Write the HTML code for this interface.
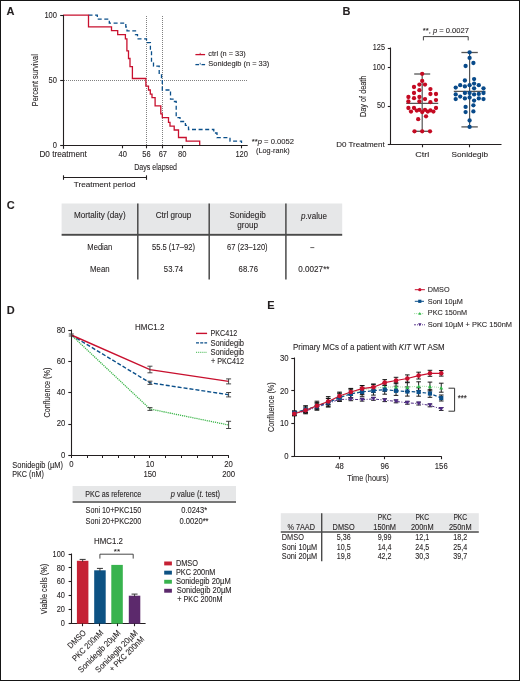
<!DOCTYPE html>
<html><head><meta charset="utf-8"><style>
html,body{margin:0;padding:0;background:#fff;width:520px;height:683px;overflow:hidden}
svg{display:block;will-change:transform}
text{font-family:"Liberation Sans",sans-serif;fill:#231f20;stroke:#231f20;stroke-width:0.15px;stroke-opacity:0.6}
</style></head><body>
<svg width="520" height="683" viewBox="0 0 520 683">
<rect width="520" height="683" fill="#fff"/>
<rect x="0.5" y="0.5" width="519" height="680" fill="none" stroke="#151515" stroke-width="1"/>
<text x="6.60" y="14.80" font-size="11" font-weight="bold" fill="#000">A</text>
<text x="342.50" y="15.00" font-size="11" font-weight="bold" fill="#000">B</text>
<text x="6.70" y="209.00" font-size="11" font-weight="bold" fill="#000">C</text>
<text x="6.80" y="314.00" font-size="11" font-weight="bold" fill="#000">D</text>
<text x="267.20" y="309.00" font-size="11" font-weight="bold" fill="#000">E</text>
<line x1="146.50" y1="16.00" x2="146.50" y2="145.50" stroke="#808080" stroke-width="1" stroke-dasharray="1 1"/>
<line x1="162.50" y1="16.00" x2="162.50" y2="145.50" stroke="#808080" stroke-width="1" stroke-dasharray="1 1"/>
<line x1="64.00" y1="80.50" x2="248.00" y2="80.50" stroke="#808080" stroke-width="1" stroke-dasharray="1 1"/>
<path d="M88.5,15.2 H97.3 V19.2 H109.3 V23.1 H125.8 V27 H127 V30.8 H135.5 V34.7 H137.5 V38.8 H146.5 V42.7 H150.4 V50 H151.5 V62.3 H153.5 V66.2 H159.2 V74.2 H161.5 V80 H162.3 V90 H170.5 V99.2 H173 V101.5 H176.2 V117.7 H180 V121.5 H185.4 V125.4 H188.5 V129.5 H213.8 V133 H217 V137.7 H230 V141.2 H241.5 V143" fill="none" stroke="#0a4f8a" stroke-width="1.3" stroke-dasharray="4 2.6"/>
<path d="M63,15.2 H88.5 V26.9 H111.5 V30.6 H117.7 V34.6 H125.4 V38.8 H126.9 V50.8 H128.5 V58.5 H130 V66.6 H132.4 V78.5 H145.9 V86.2 H148.5 V90 H150.3 V94.2 H152 V97.7 H155.1 V105.8 H160.8 V113.8 H162.3 V117.7 H168.5 V122.3 H170 V126.2 H174.2 V130 H178.5 V137.5 H186.2 V141.2 H199.7 V145.4" fill="none" stroke="#c8102e" stroke-width="1.3"/>
<line x1="63.50" y1="15.00" x2="63.50" y2="148.80" stroke="#231f20" stroke-width="1.1"/>
<line x1="63.00" y1="145.50" x2="247.70" y2="145.50" stroke="#231f20" stroke-width="1.1"/>
<line x1="60.20" y1="145.50" x2="63.50" y2="145.50" stroke="#231f20" stroke-width="1.1"/>
<line x1="60.20" y1="80.50" x2="63.50" y2="80.50" stroke="#231f20" stroke-width="1.1"/>
<line x1="60.20" y1="15.50" x2="63.50" y2="15.50" stroke="#231f20" stroke-width="1.1"/>
<line x1="122.50" y1="145.50" x2="122.50" y2="148.30" stroke="#231f20" stroke-width="1.1"/>
<line x1="146.50" y1="145.50" x2="146.50" y2="148.30" stroke="#231f20" stroke-width="1.1"/>
<line x1="162.50" y1="145.50" x2="162.50" y2="148.30" stroke="#231f20" stroke-width="1.1"/>
<line x1="182.50" y1="145.50" x2="182.50" y2="148.30" stroke="#231f20" stroke-width="1.1"/>
<line x1="241.50" y1="145.50" x2="241.50" y2="148.30" stroke="#231f20" stroke-width="1.1"/>
<text x="44.40" y="17.60" font-size="8.53" textLength="12.60" lengthAdjust="spacingAndGlyphs">100</text>
<text x="48.60" y="82.60" font-size="8.53" textLength="8.40" lengthAdjust="spacingAndGlyphs">50</text>
<text x="52.80" y="147.60" font-size="8.53" textLength="4.20" lengthAdjust="spacingAndGlyphs">0</text>
<text x="39.40" y="157.30" font-size="8.53" textLength="47.40" lengthAdjust="spacingAndGlyphs">D0 treatment</text>
<text x="118.50" y="157.30" font-size="8.53" textLength="8.40" lengthAdjust="spacingAndGlyphs">40</text>
<text x="142.30" y="157.30" font-size="8.53" textLength="8.40" lengthAdjust="spacingAndGlyphs">56</text>
<text x="158.66" y="157.30" font-size="8.53" textLength="8.40" lengthAdjust="spacingAndGlyphs">67</text>
<text x="178.00" y="157.30" font-size="8.53" textLength="8.40" lengthAdjust="spacingAndGlyphs">80</text>
<text x="235.40" y="157.30" font-size="8.53" textLength="12.60" lengthAdjust="spacingAndGlyphs">120</text>
<text transform="translate(38.30,80.20) rotate(-90)" x="-26.00" y="0" font-size="9.94" textLength="52.00" lengthAdjust="spacingAndGlyphs">Percent survival</text>
<text x="134.20" y="170.30" font-size="9.94" textLength="42.80" lengthAdjust="spacingAndGlyphs">Days elapsed</text>
<line x1="63.50" y1="177.50" x2="146.50" y2="177.50" stroke="#231f20" stroke-width="1.1"/>
<line x1="63.50" y1="175.30" x2="63.50" y2="179.80" stroke="#231f20" stroke-width="1.1"/>
<line x1="146.50" y1="175.30" x2="146.50" y2="179.80" stroke="#231f20" stroke-width="1.1"/>
<text x="73.80" y="186.50" font-size="7.99" textLength="61.80" lengthAdjust="spacingAndGlyphs">Treatment period</text>
<line x1="195.40" y1="54.60" x2="205.10" y2="54.60" stroke="#c8102e" stroke-width="1.3"/>
<line x1="200.20" y1="52.80" x2="200.20" y2="54.60" stroke="#c8102e" stroke-width="0.8"/>
<line x1="195.40" y1="64.60" x2="199.00" y2="64.60" stroke="#0a4f8a" stroke-width="1.3"/>
<line x1="201.50" y1="64.60" x2="205.10" y2="64.60" stroke="#0a4f8a" stroke-width="1.3"/>
<line x1="200.20" y1="62.80" x2="200.20" y2="64.60" stroke="#0a4f8a" stroke-width="0.8"/>
<text x="208.30" y="55.90" font-size="7.99" textLength="37.40" lengthAdjust="spacingAndGlyphs">ctrl (n = 33)</text>
<text x="208.30" y="66.30" font-size="7.99" textLength="61.00" lengthAdjust="spacingAndGlyphs">Sonidegib (n = 33)</text>
<text x="251.80" y="143.80" font-size="7.99" textLength="42.20" lengthAdjust="spacingAndGlyphs">**<tspan font-style="italic">p</tspan> = 0.0052</text>
<text x="256.00" y="152.60" font-size="7.99" textLength="33.80" lengthAdjust="spacingAndGlyphs">(Log-rank)</text>
<line x1="390.50" y1="47.50" x2="390.50" y2="145.00" stroke="#231f20" stroke-width="1.1"/>
<line x1="390.00" y1="144.50" x2="501.50" y2="144.50" stroke="#231f20" stroke-width="1.1"/>
<line x1="387.80" y1="48.50" x2="390.50" y2="48.50" stroke="#231f20" stroke-width="1.1"/>
<line x1="387.80" y1="67.50" x2="390.50" y2="67.50" stroke="#231f20" stroke-width="1.1"/>
<line x1="387.80" y1="106.50" x2="390.50" y2="106.50" stroke="#231f20" stroke-width="1.1"/>
<line x1="387.80" y1="144.50" x2="390.50" y2="144.50" stroke="#231f20" stroke-width="1.1"/>
<line x1="422.50" y1="144.50" x2="422.50" y2="147.30" stroke="#231f20" stroke-width="1.1"/>
<line x1="469.50" y1="144.50" x2="469.50" y2="147.30" stroke="#231f20" stroke-width="1.1"/>
<text x="372.80" y="50.40" font-size="8.53" textLength="12.20" lengthAdjust="spacingAndGlyphs">125</text>
<text x="372.80" y="69.60" font-size="8.53" textLength="12.20" lengthAdjust="spacingAndGlyphs">100</text>
<text x="376.90" y="108.30" font-size="8.53" textLength="8.10" lengthAdjust="spacingAndGlyphs">50</text>
<text x="336.20" y="147.20" font-size="7.99" textLength="48.50" lengthAdjust="spacingAndGlyphs">D0 Treatment</text>
<text transform="translate(365.90,96.30) rotate(-90)" x="-20.70" y="0" font-size="9.94" textLength="41.40" lengthAdjust="spacingAndGlyphs">Day of death</text>
<text x="415.20" y="157.30" font-size="7.99" textLength="14.00" lengthAdjust="spacingAndGlyphs">Ctrl</text>
<text x="451.55" y="157.30" font-size="7.99" textLength="36.50" lengthAdjust="spacingAndGlyphs">Sonidegib</text>
<path d="M423.4,40.4 V36.6 H468.2 V40.4" fill="none" stroke="#444" stroke-width="1"/>
<text x="422.80" y="33.40" font-size="7.78" textLength="46.10" lengthAdjust="spacingAndGlyphs">**, <tspan font-style="italic">p</tspan> = 0.0027</text>
<line x1="422.20" y1="74.00" x2="422.20" y2="131.30" stroke="#555" stroke-width="1.2"/>
<line x1="414.20" y1="74.00" x2="430.20" y2="74.00" stroke="#555" stroke-width="1.3"/>
<line x1="414.20" y1="131.30" x2="430.20" y2="131.30" stroke="#555" stroke-width="1.3"/>
<line x1="406.20" y1="103.40" x2="438.20" y2="103.40" stroke="#555" stroke-width="1.2"/>
<line x1="469.60" y1="52.50" x2="469.60" y2="126.90" stroke="#555" stroke-width="1.2"/>
<line x1="461.40" y1="52.50" x2="477.80" y2="52.50" stroke="#555" stroke-width="1.3"/>
<line x1="461.40" y1="126.90" x2="477.80" y2="126.90" stroke="#555" stroke-width="1.3"/>
<line x1="453.80" y1="91.40" x2="485.40" y2="91.40" stroke="#555" stroke-width="1.2"/>
<circle cx="422.20" cy="73.80" r="2.15" fill="#c40a22"/>
<circle cx="422.20" cy="80.90" r="2.15" fill="#c40a22"/>
<circle cx="419.40" cy="84.60" r="2.15" fill="#c40a22"/>
<circle cx="425.00" cy="84.60" r="2.15" fill="#c40a22"/>
<circle cx="414.00" cy="87.00" r="2.15" fill="#c40a22"/>
<circle cx="430.40" cy="89.10" r="2.15" fill="#c40a22"/>
<circle cx="419.40" cy="90.20" r="2.15" fill="#c40a22"/>
<circle cx="414.00" cy="93.00" r="2.15" fill="#c40a22"/>
<circle cx="430.40" cy="94.00" r="2.15" fill="#c40a22"/>
<circle cx="436.00" cy="94.00" r="2.15" fill="#c40a22"/>
<circle cx="408.40" cy="97.00" r="2.15" fill="#c40a22"/>
<circle cx="414.00" cy="98.20" r="2.15" fill="#c40a22"/>
<circle cx="419.40" cy="97.00" r="2.15" fill="#c40a22"/>
<circle cx="425.00" cy="99.10" r="2.15" fill="#c40a22"/>
<circle cx="436.00" cy="100.10" r="2.15" fill="#c40a22"/>
<circle cx="408.40" cy="101.50" r="2.15" fill="#c40a22"/>
<circle cx="419.40" cy="101.50" r="2.15" fill="#c40a22"/>
<circle cx="430.40" cy="102.20" r="2.15" fill="#c40a22"/>
<circle cx="408.40" cy="108.00" r="2.15" fill="#c40a22"/>
<circle cx="414.00" cy="108.00" r="2.15" fill="#c40a22"/>
<circle cx="436.00" cy="108.00" r="2.15" fill="#c40a22"/>
<circle cx="411.00" cy="111.60" r="2.15" fill="#c40a22"/>
<circle cx="416.80" cy="110.60" r="2.15" fill="#c40a22"/>
<circle cx="419.40" cy="109.80" r="2.15" fill="#c40a22"/>
<circle cx="422.20" cy="112.10" r="2.15" fill="#c40a22"/>
<circle cx="425.00" cy="109.80" r="2.15" fill="#c40a22"/>
<circle cx="427.80" cy="111.60" r="2.15" fill="#c40a22"/>
<circle cx="430.40" cy="110.40" r="2.15" fill="#c40a22"/>
<circle cx="433.40" cy="111.60" r="2.15" fill="#c40a22"/>
<circle cx="426.00" cy="116.30" r="2.15" fill="#c40a22"/>
<circle cx="418.20" cy="119.20" r="2.15" fill="#c40a22"/>
<circle cx="414.50" cy="131.30" r="2.15" fill="#c40a22"/>
<circle cx="422.20" cy="131.30" r="2.15" fill="#c40a22"/>
<circle cx="430.00" cy="131.30" r="2.15" fill="#c40a22"/>
<circle cx="469.60" cy="52.30" r="2.15" fill="#084a8a"/>
<circle cx="469.60" cy="57.90" r="2.15" fill="#084a8a"/>
<circle cx="473.40" cy="63.00" r="2.15" fill="#084a8a"/>
<circle cx="465.60" cy="66.00" r="2.15" fill="#084a8a"/>
<circle cx="464.90" cy="80.50" r="2.15" fill="#084a8a"/>
<circle cx="474.10" cy="79.10" r="2.15" fill="#084a8a"/>
<circle cx="460.20" cy="85.20" r="2.15" fill="#084a8a"/>
<circle cx="464.90" cy="86.40" r="2.15" fill="#084a8a"/>
<circle cx="469.60" cy="85.20" r="2.15" fill="#084a8a"/>
<circle cx="474.10" cy="83.60" r="2.15" fill="#084a8a"/>
<circle cx="478.80" cy="85.20" r="2.15" fill="#084a8a"/>
<circle cx="455.70" cy="87.60" r="2.15" fill="#084a8a"/>
<circle cx="474.10" cy="88.30" r="2.15" fill="#084a8a"/>
<circle cx="483.50" cy="88.30" r="2.15" fill="#084a8a"/>
<circle cx="464.90" cy="93.00" r="2.15" fill="#084a8a"/>
<circle cx="469.60" cy="93.00" r="2.15" fill="#084a8a"/>
<circle cx="483.50" cy="93.00" r="2.15" fill="#084a8a"/>
<circle cx="455.70" cy="94.40" r="2.15" fill="#084a8a"/>
<circle cx="474.10" cy="94.40" r="2.15" fill="#084a8a"/>
<circle cx="478.80" cy="93.90" r="2.15" fill="#084a8a"/>
<circle cx="460.20" cy="96.60" r="2.15" fill="#084a8a"/>
<circle cx="455.70" cy="99.10" r="2.15" fill="#084a8a"/>
<circle cx="464.90" cy="98.40" r="2.15" fill="#084a8a"/>
<circle cx="469.60" cy="97.50" r="2.15" fill="#084a8a"/>
<circle cx="478.80" cy="98.40" r="2.15" fill="#084a8a"/>
<circle cx="483.50" cy="99.10" r="2.15" fill="#084a8a"/>
<circle cx="474.10" cy="100.60" r="2.15" fill="#084a8a"/>
<circle cx="473.40" cy="105.30" r="2.15" fill="#084a8a"/>
<circle cx="465.60" cy="106.90" r="2.15" fill="#084a8a"/>
<circle cx="465.60" cy="112.10" r="2.15" fill="#084a8a"/>
<circle cx="473.40" cy="111.40" r="2.15" fill="#084a8a"/>
<circle cx="469.60" cy="120.50" r="2.15" fill="#084a8a"/>
<circle cx="469.60" cy="126.90" r="2.15" fill="#084a8a"/>
<rect x="61.60" y="203.50" width="280.60" height="29.30" fill="#e6e7e8"/>
<line x1="61.60" y1="234.80" x2="342.20" y2="234.80" stroke="#4a4a4a" stroke-width="2"/>
<line x1="137.80" y1="203.50" x2="137.80" y2="279.60" stroke="#4a4a4a" stroke-width="1.5"/>
<line x1="209.20" y1="203.50" x2="209.20" y2="279.60" stroke="#4a4a4a" stroke-width="1.5"/>
<line x1="285.90" y1="203.50" x2="285.90" y2="279.60" stroke="#4a4a4a" stroke-width="1.5"/>
<text x="74.00" y="218.30" font-size="8.86" textLength="51.60" lengthAdjust="spacingAndGlyphs">Mortality (day)</text>
<text x="155.75" y="218.30" font-size="8.86" textLength="35.50" lengthAdjust="spacingAndGlyphs">Ctrl group</text>
<text x="229.45" y="217.90" font-size="8.86" textLength="36.30" lengthAdjust="spacingAndGlyphs">Sonidegib</text>
<text x="237.20" y="228.20" font-size="8.86" textLength="20.80" lengthAdjust="spacingAndGlyphs">group</text>
<text x="300.90" y="218.60" font-size="8.86" textLength="26.00" lengthAdjust="spacingAndGlyphs"><tspan font-style="italic">p</tspan>.value</text>
<text x="87.30" y="249.70" font-size="8.86" textLength="25.00" lengthAdjust="spacingAndGlyphs">Median</text>
<text x="90.05" y="271.90" font-size="8.86" textLength="19.50" lengthAdjust="spacingAndGlyphs">Mean</text>
<text x="151.95" y="249.70" font-size="8.86" textLength="43.10" lengthAdjust="spacingAndGlyphs">55.5 (17–92)</text>
<text x="163.85" y="271.90" font-size="8.86" textLength="19.30" lengthAdjust="spacingAndGlyphs">53.74</text>
<text x="226.95" y="249.70" font-size="8.86" textLength="40.70" lengthAdjust="spacingAndGlyphs">67 (23–120)</text>
<text x="238.60" y="271.90" font-size="8.86" textLength="19.40" lengthAdjust="spacingAndGlyphs">68.76</text>
<line x1="310.30" y1="247.60" x2="314.30" y2="247.60" stroke="#231f20" stroke-width="0.7"/>
<text x="298.35" y="271.90" font-size="8.86" textLength="31.10" lengthAdjust="spacingAndGlyphs">0.0027**</text>
<line x1="71.50" y1="329.50" x2="71.50" y2="456.00" stroke="#231f20" stroke-width="1.1"/>
<line x1="71.00" y1="455.50" x2="228.90" y2="455.50" stroke="#231f20" stroke-width="1.1"/>
<line x1="68.30" y1="455.50" x2="71.50" y2="455.50" stroke="#231f20" stroke-width="1.1"/>
<line x1="68.30" y1="424.50" x2="71.50" y2="424.50" stroke="#231f20" stroke-width="1.1"/>
<line x1="68.30" y1="392.50" x2="71.50" y2="392.50" stroke="#231f20" stroke-width="1.1"/>
<line x1="68.30" y1="361.50" x2="71.50" y2="361.50" stroke="#231f20" stroke-width="1.1"/>
<line x1="68.30" y1="330.50" x2="71.50" y2="330.50" stroke="#231f20" stroke-width="1.1"/>
<line x1="71.50" y1="455.50" x2="71.50" y2="458.00" stroke="#231f20" stroke-width="1.0"/>
<line x1="87.50" y1="455.50" x2="87.50" y2="458.00" stroke="#231f20" stroke-width="1.0"/>
<line x1="102.50" y1="455.50" x2="102.50" y2="458.00" stroke="#231f20" stroke-width="1.0"/>
<line x1="118.50" y1="455.50" x2="118.50" y2="458.00" stroke="#231f20" stroke-width="1.0"/>
<line x1="134.50" y1="455.50" x2="134.50" y2="458.00" stroke="#231f20" stroke-width="1.0"/>
<line x1="149.50" y1="455.50" x2="149.50" y2="458.00" stroke="#231f20" stroke-width="1.0"/>
<line x1="165.50" y1="455.50" x2="165.50" y2="458.00" stroke="#231f20" stroke-width="1.0"/>
<line x1="181.50" y1="455.50" x2="181.50" y2="458.00" stroke="#231f20" stroke-width="1.0"/>
<line x1="197.50" y1="455.50" x2="197.50" y2="458.00" stroke="#231f20" stroke-width="1.0"/>
<line x1="212.50" y1="455.50" x2="212.50" y2="458.00" stroke="#231f20" stroke-width="1.0"/>
<line x1="228.50" y1="455.50" x2="228.50" y2="458.00" stroke="#231f20" stroke-width="1.0"/>
<text x="61.00" y="457.70" font-size="8.96" textLength="4.30" lengthAdjust="spacingAndGlyphs">0</text>
<text x="56.70" y="426.45" font-size="8.96" textLength="8.60" lengthAdjust="spacingAndGlyphs">20</text>
<text x="56.70" y="395.20" font-size="8.96" textLength="8.60" lengthAdjust="spacingAndGlyphs">40</text>
<text x="56.70" y="363.95" font-size="8.96" textLength="8.60" lengthAdjust="spacingAndGlyphs">60</text>
<text x="56.70" y="332.70" font-size="8.96" textLength="8.60" lengthAdjust="spacingAndGlyphs">80</text>
<text transform="translate(50.00,392.60) rotate(-90)" x="-25.00" y="0" font-size="9.94" textLength="50.00" lengthAdjust="spacingAndGlyphs">Confluence (%)</text>
<text x="135.10" y="329.60" font-size="8.42" textLength="29.30" lengthAdjust="spacingAndGlyphs">HMC1.2</text>
<path d="M71.30,335.00 L149.95,409.00 L228.60,425.00" fill="none" stroke="#3cb54a" stroke-width="1.3" stroke-dasharray="1.2 0.9"/>
<path d="M71.30,335.00 L149.95,382.80 L228.60,394.70" fill="none" stroke="#0a4f8a" stroke-width="1.4" stroke-dasharray="4 2"/>
<path d="M71.30,335.00 L149.95,369.60 L228.60,381.40" fill="none" stroke="#c8102e" stroke-width="1.4"/>
<line x1="149.95" y1="366.20" x2="149.95" y2="372.80" stroke="#333" stroke-width="0.9"/>
<line x1="147.45" y1="366.20" x2="152.45" y2="366.20" stroke="#333" stroke-width="0.9"/>
<line x1="147.45" y1="372.80" x2="152.45" y2="372.80" stroke="#333" stroke-width="0.9"/>
<line x1="149.95" y1="381.20" x2="149.95" y2="384.40" stroke="#333" stroke-width="0.9"/>
<line x1="147.45" y1="381.20" x2="152.45" y2="381.20" stroke="#333" stroke-width="0.9"/>
<line x1="147.45" y1="384.40" x2="152.45" y2="384.40" stroke="#333" stroke-width="0.9"/>
<line x1="149.95" y1="407.60" x2="149.95" y2="410.40" stroke="#333" stroke-width="0.9"/>
<line x1="147.45" y1="407.60" x2="152.45" y2="407.60" stroke="#333" stroke-width="0.9"/>
<line x1="147.45" y1="410.40" x2="152.45" y2="410.40" stroke="#333" stroke-width="0.9"/>
<line x1="228.60" y1="378.90" x2="228.60" y2="383.90" stroke="#333" stroke-width="0.9"/>
<line x1="226.10" y1="378.90" x2="231.10" y2="378.90" stroke="#333" stroke-width="0.9"/>
<line x1="226.10" y1="383.90" x2="231.10" y2="383.90" stroke="#333" stroke-width="0.9"/>
<line x1="228.60" y1="392.50" x2="228.60" y2="396.90" stroke="#333" stroke-width="0.9"/>
<line x1="226.10" y1="392.50" x2="231.10" y2="392.50" stroke="#333" stroke-width="0.9"/>
<line x1="226.10" y1="396.90" x2="231.10" y2="396.90" stroke="#333" stroke-width="0.9"/>
<line x1="228.60" y1="421.30" x2="228.60" y2="428.50" stroke="#333" stroke-width="0.9"/>
<line x1="226.10" y1="421.30" x2="231.10" y2="421.30" stroke="#333" stroke-width="0.9"/>
<line x1="226.10" y1="428.50" x2="231.10" y2="428.50" stroke="#333" stroke-width="0.9"/>
<line x1="71.30" y1="334.00" x2="71.30" y2="336.00" stroke="#333" stroke-width="0.9"/>
<line x1="68.80" y1="334.00" x2="73.80" y2="334.00" stroke="#333" stroke-width="0.9"/>
<line x1="68.80" y1="336.00" x2="73.80" y2="336.00" stroke="#333" stroke-width="0.9"/>
<line x1="196.00" y1="333.40" x2="207.10" y2="333.40" stroke="#c8102e" stroke-width="1.4"/>
<line x1="196.00" y1="342.90" x2="207.10" y2="342.90" stroke="#0a4f8a" stroke-width="1.4" stroke-dasharray="3 1.2"/>
<line x1="196.00" y1="352.30" x2="207.10" y2="352.30" stroke="#3cb54a" stroke-width="1.0" stroke-dasharray="1 0.9"/>
<text x="210.50" y="336.00" font-size="8.42" textLength="26.60" lengthAdjust="spacingAndGlyphs">PKC412</text>
<text x="210.50" y="345.50" font-size="8.42" textLength="33.50" lengthAdjust="spacingAndGlyphs">Sonidegib</text>
<text x="210.50" y="355.20" font-size="8.42" textLength="33.50" lengthAdjust="spacingAndGlyphs">Sonidegib</text>
<text x="211.00" y="363.70" font-size="8.42" textLength="33.00" lengthAdjust="spacingAndGlyphs">+ PKC412</text>
<text x="69.15" y="467.30" font-size="8.21" textLength="4.30" lengthAdjust="spacingAndGlyphs">0</text>
<text x="145.65" y="467.30" font-size="8.21" textLength="8.60" lengthAdjust="spacingAndGlyphs">10</text>
<text x="224.30" y="467.30" font-size="8.21" textLength="8.60" lengthAdjust="spacingAndGlyphs">20</text>
<text x="143.50" y="477.00" font-size="8.21" textLength="12.90" lengthAdjust="spacingAndGlyphs">150</text>
<text x="222.15" y="477.00" font-size="8.21" textLength="12.90" lengthAdjust="spacingAndGlyphs">200</text>
<text x="12.30" y="468.20" font-size="8.21" textLength="50.70" lengthAdjust="spacingAndGlyphs">Sonidegib (µM)</text>
<text x="12.30" y="477.00" font-size="8.21" textLength="31.50" lengthAdjust="spacingAndGlyphs">PKC (nM)</text>
<rect x="72.60" y="486.00" width="163.40" height="14.80" fill="#e6e7e8"/>
<line x1="72.60" y1="502.00" x2="236.00" y2="502.00" stroke="#4a4a4a" stroke-width="1.7"/>
<text x="85.20" y="497.30" font-size="8.42" textLength="56.10" lengthAdjust="spacingAndGlyphs">PKC as reference</text>
<text x="170.80" y="497.30" font-size="8.42" textLength="49.30" lengthAdjust="spacingAndGlyphs"><tspan font-style="italic">p</tspan> value (<tspan font-style="italic">t</tspan>. test)</text>
<text x="85.60" y="513.20" font-size="8.42" textLength="55.70" lengthAdjust="spacingAndGlyphs">Soni 10+PKC150</text>
<text x="85.60" y="524.10" font-size="8.42" textLength="55.70" lengthAdjust="spacingAndGlyphs">Soni 20+PKC200</text>
<text x="181.25" y="513.20" font-size="8.42" textLength="25.90" lengthAdjust="spacingAndGlyphs">0.0243*</text>
<text x="179.45" y="524.10" font-size="8.42" textLength="29.10" lengthAdjust="spacingAndGlyphs">0.0020**</text>
<line x1="71.50" y1="553.50" x2="71.50" y2="624.00" stroke="#231f20" stroke-width="1.1"/>
<line x1="71.00" y1="623.50" x2="145.60" y2="623.50" stroke="#231f20" stroke-width="1.1"/>
<line x1="68.60" y1="623.50" x2="71.50" y2="623.50" stroke="#231f20" stroke-width="1.1"/>
<text x="60.80" y="626.30" font-size="8.75" textLength="4.10" lengthAdjust="spacingAndGlyphs">0</text>
<line x1="68.60" y1="609.50" x2="71.50" y2="609.50" stroke="#231f20" stroke-width="1.1"/>
<text x="56.70" y="612.36" font-size="8.75" textLength="8.20" lengthAdjust="spacingAndGlyphs">20</text>
<line x1="68.60" y1="595.50" x2="71.50" y2="595.50" stroke="#231f20" stroke-width="1.1"/>
<text x="56.70" y="598.42" font-size="8.75" textLength="8.20" lengthAdjust="spacingAndGlyphs">40</text>
<line x1="68.60" y1="581.50" x2="71.50" y2="581.50" stroke="#231f20" stroke-width="1.1"/>
<text x="56.70" y="584.48" font-size="8.75" textLength="8.20" lengthAdjust="spacingAndGlyphs">60</text>
<line x1="68.60" y1="567.50" x2="71.50" y2="567.50" stroke="#231f20" stroke-width="1.1"/>
<text x="56.70" y="570.54" font-size="8.75" textLength="8.20" lengthAdjust="spacingAndGlyphs">80</text>
<line x1="68.60" y1="554.50" x2="71.50" y2="554.50" stroke="#231f20" stroke-width="1.1"/>
<text x="52.60" y="556.60" font-size="8.75" textLength="12.30" lengthAdjust="spacingAndGlyphs">100</text>
<text transform="translate(46.80,589.00) rotate(-90)" x="-25.15" y="0" font-size="9.94" textLength="50.30" lengthAdjust="spacingAndGlyphs">Viable cells (%)</text>
<text x="94.10" y="543.50" font-size="8.42" textLength="28.90" lengthAdjust="spacingAndGlyphs">HMC1.2</text>
<rect x="76.90" y="560.80" width="11.50" height="62.90" fill="#c52134"/>
<line x1="82.65" y1="559.40" x2="82.65" y2="561.80" stroke="#333" stroke-width="0.9"/>
<line x1="79.65" y1="559.40" x2="85.65" y2="559.40" stroke="#333" stroke-width="1.0"/>
<line x1="82.50" y1="623.50" x2="82.50" y2="626.20" stroke="#231f20" stroke-width="1.1"/>
<rect x="94.20" y="570.30" width="11.50" height="53.40" fill="#0d5283"/>
<line x1="99.95" y1="568.40" x2="99.95" y2="571.30" stroke="#333" stroke-width="0.9"/>
<line x1="96.95" y1="568.40" x2="102.95" y2="568.40" stroke="#333" stroke-width="1.0"/>
<line x1="99.50" y1="623.50" x2="99.50" y2="626.20" stroke="#231f20" stroke-width="1.1"/>
<rect x="111.30" y="564.90" width="11.50" height="58.80" fill="#38b34e"/>
<line x1="117.50" y1="623.50" x2="117.50" y2="626.20" stroke="#231f20" stroke-width="1.1"/>
<rect x="128.80" y="595.70" width="11.50" height="28.00" fill="#5c296c"/>
<line x1="134.55" y1="594.10" x2="134.55" y2="596.70" stroke="#333" stroke-width="0.9"/>
<line x1="131.55" y1="594.10" x2="137.55" y2="594.10" stroke="#333" stroke-width="1.0"/>
<line x1="134.50" y1="623.50" x2="134.50" y2="626.20" stroke="#231f20" stroke-width="1.1"/>
<path d="M99.9,558.6 V554.2 H133.2 V558.6" fill="none" stroke="#333" stroke-width="0.9"/>
<text x="113.75" y="553.60" font-size="7.99" textLength="6.30" lengthAdjust="spacingAndGlyphs">**</text>
<text transform="translate(86.55,633.40) rotate(-45)" x="-22.20" y="0" font-size="8.42" textLength="22.20" lengthAdjust="spacingAndGlyphs">DMSO</text>
<text transform="translate(103.80,633.40) rotate(-45)" x="-40.00" y="0" font-size="8.42" textLength="40.00" lengthAdjust="spacingAndGlyphs">PKC 200nM</text>
<text transform="translate(121.10,633.40) rotate(-45)" x="-56.30" y="0" font-size="8.42" textLength="56.30" lengthAdjust="spacingAndGlyphs">Sonidegib 20µM</text>
<text transform="translate(138.40,633.40) rotate(-45)" x="-56.30" y="0" font-size="8.42" textLength="56.30" lengthAdjust="spacingAndGlyphs">Sonidegib 20µM</text>
<text transform="translate(144.70,639.80) rotate(-45)" x="-45.50" y="0" font-size="8.42" textLength="45.50" lengthAdjust="spacingAndGlyphs">+ PKC 200nM</text>
<rect x="164.20" y="561.50" width="7.70" height="3.90" fill="#c52134"/>
<text x="175.90" y="565.60" font-size="8.21" textLength="22.10" lengthAdjust="spacingAndGlyphs">DMSO</text>
<rect x="164.20" y="570.70" width="7.70" height="3.90" fill="#0d5283"/>
<text x="175.90" y="574.60" font-size="8.21" textLength="39.40" lengthAdjust="spacingAndGlyphs">PKC 200nM</text>
<rect x="164.20" y="579.80" width="7.70" height="3.90" fill="#38b34e"/>
<text x="175.90" y="583.60" font-size="8.21" textLength="54.80" lengthAdjust="spacingAndGlyphs">Sonidegib 20µM</text>
<rect x="164.20" y="588.80" width="7.70" height="3.90" fill="#5c296c"/>
<text x="176.80" y="592.70" font-size="8.21" textLength="54.80" lengthAdjust="spacingAndGlyphs">Sonidegib 20µM</text>
<text x="177.30" y="601.50" font-size="8.21" textLength="45.20" lengthAdjust="spacingAndGlyphs">+ PKC 200nM</text>
<line x1="294.50" y1="357.50" x2="294.50" y2="457.00" stroke="#231f20" stroke-width="1.1"/>
<line x1="294.00" y1="456.50" x2="441.80" y2="456.50" stroke="#231f20" stroke-width="1.1"/>
<line x1="291.30" y1="456.50" x2="294.50" y2="456.50" stroke="#231f20" stroke-width="1.1"/>
<text x="284.30" y="458.80" font-size="8.64" textLength="4.30" lengthAdjust="spacingAndGlyphs">0</text>
<line x1="291.30" y1="423.50" x2="294.50" y2="423.50" stroke="#231f20" stroke-width="1.1"/>
<text x="280.00" y="426.20" font-size="8.64" textLength="8.60" lengthAdjust="spacingAndGlyphs">10</text>
<line x1="291.30" y1="390.50" x2="294.50" y2="390.50" stroke="#231f20" stroke-width="1.1"/>
<text x="280.00" y="393.60" font-size="8.64" textLength="8.60" lengthAdjust="spacingAndGlyphs">20</text>
<line x1="291.30" y1="358.50" x2="294.50" y2="358.50" stroke="#231f20" stroke-width="1.1"/>
<text x="280.00" y="361.00" font-size="8.64" textLength="8.60" lengthAdjust="spacingAndGlyphs">30</text>
<line x1="339.50" y1="456.50" x2="339.50" y2="459.20" stroke="#231f20" stroke-width="1.1"/>
<text x="335.22" y="468.60" font-size="8.21" textLength="8.60" lengthAdjust="spacingAndGlyphs">48</text>
<line x1="384.50" y1="456.50" x2="384.50" y2="459.20" stroke="#231f20" stroke-width="1.1"/>
<text x="380.43" y="468.60" font-size="8.21" textLength="8.60" lengthAdjust="spacingAndGlyphs">96</text>
<line x1="441.50" y1="456.50" x2="441.50" y2="459.20" stroke="#231f20" stroke-width="1.1"/>
<text x="434.80" y="468.60" font-size="8.21" textLength="12.90" lengthAdjust="spacingAndGlyphs">156</text>
<text x="347.20" y="480.90" font-size="9.94" textLength="41.50" lengthAdjust="spacingAndGlyphs">Time (hours)</text>
<text transform="translate(274.20,407.20) rotate(-90)" x="-24.80" y="0" font-size="9.94" textLength="49.60" lengthAdjust="spacingAndGlyphs">Confluence (%)</text>
<text x="293.00" y="349.50" font-size="8.64" textLength="151.60" lengthAdjust="spacingAndGlyphs">Primary MCs of a patient with <tspan font-style="italic">KIT</tspan> WT ASM</text>
<line x1="294.30" y1="411.00" x2="294.30" y2="415.40" stroke="#111" stroke-width="0.95"/>
<line x1="292.00" y1="411.00" x2="296.60" y2="411.00" stroke="#111" stroke-width="0.95"/>
<line x1="292.00" y1="415.40" x2="296.60" y2="415.40" stroke="#111" stroke-width="0.95"/>
<line x1="305.60" y1="405.80" x2="305.60" y2="413.80" stroke="#111" stroke-width="0.95"/>
<line x1="303.30" y1="405.80" x2="307.90" y2="405.80" stroke="#111" stroke-width="0.95"/>
<line x1="303.30" y1="413.80" x2="307.90" y2="413.80" stroke="#111" stroke-width="0.95"/>
<line x1="316.91" y1="401.20" x2="316.91" y2="410.00" stroke="#111" stroke-width="0.95"/>
<line x1="314.61" y1="401.20" x2="319.21" y2="401.20" stroke="#111" stroke-width="0.95"/>
<line x1="314.61" y1="410.00" x2="319.21" y2="410.00" stroke="#111" stroke-width="0.95"/>
<line x1="328.21" y1="396.60" x2="328.21" y2="407.00" stroke="#111" stroke-width="0.95"/>
<line x1="325.91" y1="396.60" x2="330.51" y2="396.60" stroke="#111" stroke-width="0.95"/>
<line x1="325.91" y1="407.00" x2="330.51" y2="407.00" stroke="#111" stroke-width="0.95"/>
<line x1="339.52" y1="392.10" x2="339.52" y2="400.90" stroke="#111" stroke-width="0.95"/>
<line x1="337.22" y1="392.10" x2="341.82" y2="392.10" stroke="#111" stroke-width="0.95"/>
<line x1="337.22" y1="400.90" x2="341.82" y2="400.90" stroke="#111" stroke-width="0.95"/>
<line x1="350.82" y1="388.40" x2="350.82" y2="397.60" stroke="#111" stroke-width="0.95"/>
<line x1="348.52" y1="388.40" x2="353.12" y2="388.40" stroke="#111" stroke-width="0.95"/>
<line x1="348.52" y1="397.60" x2="353.12" y2="397.60" stroke="#111" stroke-width="0.95"/>
<line x1="362.12" y1="385.60" x2="362.12" y2="394.40" stroke="#111" stroke-width="0.95"/>
<line x1="359.82" y1="385.60" x2="364.42" y2="385.60" stroke="#111" stroke-width="0.95"/>
<line x1="359.82" y1="394.40" x2="364.42" y2="394.40" stroke="#111" stroke-width="0.95"/>
<line x1="373.43" y1="384.00" x2="373.43" y2="392.40" stroke="#111" stroke-width="0.95"/>
<line x1="371.13" y1="384.00" x2="375.73" y2="384.00" stroke="#111" stroke-width="0.95"/>
<line x1="371.13" y1="392.40" x2="375.73" y2="392.40" stroke="#111" stroke-width="0.95"/>
<line x1="384.73" y1="382.90" x2="384.73" y2="391.30" stroke="#111" stroke-width="0.95"/>
<line x1="382.43" y1="382.90" x2="387.03" y2="382.90" stroke="#111" stroke-width="0.95"/>
<line x1="382.43" y1="391.30" x2="387.03" y2="391.30" stroke="#111" stroke-width="0.95"/>
<line x1="396.04" y1="382.70" x2="396.04" y2="391.10" stroke="#111" stroke-width="0.95"/>
<line x1="393.74" y1="382.70" x2="398.34" y2="382.70" stroke="#111" stroke-width="0.95"/>
<line x1="393.74" y1="391.10" x2="398.34" y2="391.10" stroke="#111" stroke-width="0.95"/>
<line x1="407.34" y1="382.70" x2="407.34" y2="391.50" stroke="#111" stroke-width="0.95"/>
<line x1="405.04" y1="382.70" x2="409.64" y2="382.70" stroke="#111" stroke-width="0.95"/>
<line x1="405.04" y1="391.50" x2="409.64" y2="391.50" stroke="#111" stroke-width="0.95"/>
<line x1="418.64" y1="381.80" x2="418.64" y2="390.60" stroke="#111" stroke-width="0.95"/>
<line x1="416.34" y1="381.80" x2="420.94" y2="381.80" stroke="#111" stroke-width="0.95"/>
<line x1="416.34" y1="390.60" x2="420.94" y2="390.60" stroke="#111" stroke-width="0.95"/>
<line x1="429.95" y1="382.10" x2="429.95" y2="390.90" stroke="#111" stroke-width="0.95"/>
<line x1="427.65" y1="382.10" x2="432.25" y2="382.10" stroke="#111" stroke-width="0.95"/>
<line x1="427.65" y1="390.90" x2="432.25" y2="390.90" stroke="#111" stroke-width="0.95"/>
<line x1="441.25" y1="383.20" x2="441.25" y2="392.20" stroke="#111" stroke-width="0.95"/>
<line x1="438.95" y1="383.20" x2="443.55" y2="383.20" stroke="#111" stroke-width="0.95"/>
<line x1="438.95" y1="392.20" x2="443.55" y2="392.20" stroke="#111" stroke-width="0.95"/>
<line x1="294.30" y1="411.00" x2="294.30" y2="415.00" stroke="#111" stroke-width="0.95"/>
<line x1="292.00" y1="411.00" x2="296.60" y2="411.00" stroke="#111" stroke-width="0.95"/>
<line x1="292.00" y1="415.00" x2="296.60" y2="415.00" stroke="#111" stroke-width="0.95"/>
<line x1="305.60" y1="406.10" x2="305.60" y2="413.10" stroke="#111" stroke-width="0.95"/>
<line x1="303.30" y1="406.10" x2="307.90" y2="406.10" stroke="#111" stroke-width="0.95"/>
<line x1="303.30" y1="413.10" x2="307.90" y2="413.10" stroke="#111" stroke-width="0.95"/>
<line x1="316.91" y1="402.40" x2="316.91" y2="410.00" stroke="#111" stroke-width="0.95"/>
<line x1="314.61" y1="402.40" x2="319.21" y2="402.40" stroke="#111" stroke-width="0.95"/>
<line x1="314.61" y1="410.00" x2="319.21" y2="410.00" stroke="#111" stroke-width="0.95"/>
<line x1="328.21" y1="398.30" x2="328.21" y2="406.70" stroke="#111" stroke-width="0.95"/>
<line x1="325.91" y1="398.30" x2="330.51" y2="398.30" stroke="#111" stroke-width="0.95"/>
<line x1="325.91" y1="406.70" x2="330.51" y2="406.70" stroke="#111" stroke-width="0.95"/>
<line x1="339.52" y1="393.80" x2="339.52" y2="401.40" stroke="#111" stroke-width="0.95"/>
<line x1="337.22" y1="393.80" x2="341.82" y2="393.80" stroke="#111" stroke-width="0.95"/>
<line x1="337.22" y1="401.40" x2="341.82" y2="401.40" stroke="#111" stroke-width="0.95"/>
<line x1="350.82" y1="389.90" x2="350.82" y2="397.90" stroke="#111" stroke-width="0.95"/>
<line x1="348.52" y1="389.90" x2="353.12" y2="389.90" stroke="#111" stroke-width="0.95"/>
<line x1="348.52" y1="397.90" x2="353.12" y2="397.90" stroke="#111" stroke-width="0.95"/>
<line x1="362.12" y1="387.50" x2="362.12" y2="396.30" stroke="#111" stroke-width="0.95"/>
<line x1="359.82" y1="387.50" x2="364.42" y2="387.50" stroke="#111" stroke-width="0.95"/>
<line x1="359.82" y1="396.30" x2="364.42" y2="396.30" stroke="#111" stroke-width="0.95"/>
<line x1="373.43" y1="386.30" x2="373.43" y2="395.10" stroke="#111" stroke-width="0.95"/>
<line x1="371.13" y1="386.30" x2="375.73" y2="386.30" stroke="#111" stroke-width="0.95"/>
<line x1="371.13" y1="395.10" x2="375.73" y2="395.10" stroke="#111" stroke-width="0.95"/>
<line x1="384.73" y1="385.00" x2="384.73" y2="394.20" stroke="#111" stroke-width="0.95"/>
<line x1="382.43" y1="385.00" x2="387.03" y2="385.00" stroke="#111" stroke-width="0.95"/>
<line x1="382.43" y1="394.20" x2="387.03" y2="394.20" stroke="#111" stroke-width="0.95"/>
<line x1="396.04" y1="386.20" x2="396.04" y2="395.40" stroke="#111" stroke-width="0.95"/>
<line x1="393.74" y1="386.20" x2="398.34" y2="386.20" stroke="#111" stroke-width="0.95"/>
<line x1="393.74" y1="395.40" x2="398.34" y2="395.40" stroke="#111" stroke-width="0.95"/>
<line x1="407.34" y1="386.90" x2="407.34" y2="396.10" stroke="#111" stroke-width="0.95"/>
<line x1="405.04" y1="386.90" x2="409.64" y2="386.90" stroke="#111" stroke-width="0.95"/>
<line x1="405.04" y1="396.10" x2="409.64" y2="396.10" stroke="#111" stroke-width="0.95"/>
<line x1="418.64" y1="387.80" x2="418.64" y2="396.20" stroke="#111" stroke-width="0.95"/>
<line x1="416.34" y1="387.80" x2="420.94" y2="387.80" stroke="#111" stroke-width="0.95"/>
<line x1="416.34" y1="396.20" x2="420.94" y2="396.20" stroke="#111" stroke-width="0.95"/>
<line x1="429.95" y1="389.70" x2="429.95" y2="397.30" stroke="#111" stroke-width="0.95"/>
<line x1="427.65" y1="389.70" x2="432.25" y2="389.70" stroke="#111" stroke-width="0.95"/>
<line x1="427.65" y1="397.30" x2="432.25" y2="397.30" stroke="#111" stroke-width="0.95"/>
<line x1="441.25" y1="395.00" x2="441.25" y2="401.00" stroke="#111" stroke-width="0.95"/>
<line x1="438.95" y1="395.00" x2="443.55" y2="395.00" stroke="#111" stroke-width="0.95"/>
<line x1="438.95" y1="401.00" x2="443.55" y2="401.00" stroke="#111" stroke-width="0.95"/>
<line x1="294.30" y1="411.50" x2="294.30" y2="415.90" stroke="#111" stroke-width="0.95"/>
<line x1="292.00" y1="411.50" x2="296.60" y2="411.50" stroke="#111" stroke-width="0.95"/>
<line x1="292.00" y1="415.90" x2="296.60" y2="415.90" stroke="#111" stroke-width="0.95"/>
<line x1="305.60" y1="407.90" x2="305.60" y2="412.50" stroke="#111" stroke-width="0.95"/>
<line x1="303.30" y1="407.90" x2="307.90" y2="407.90" stroke="#111" stroke-width="0.95"/>
<line x1="303.30" y1="412.50" x2="307.90" y2="412.50" stroke="#111" stroke-width="0.95"/>
<line x1="316.91" y1="403.30" x2="316.91" y2="408.30" stroke="#111" stroke-width="0.95"/>
<line x1="314.61" y1="403.30" x2="319.21" y2="403.30" stroke="#111" stroke-width="0.95"/>
<line x1="314.61" y1="408.30" x2="319.21" y2="408.30" stroke="#111" stroke-width="0.95"/>
<line x1="328.21" y1="398.50" x2="328.21" y2="404.50" stroke="#111" stroke-width="0.95"/>
<line x1="325.91" y1="398.50" x2="330.51" y2="398.50" stroke="#111" stroke-width="0.95"/>
<line x1="325.91" y1="404.50" x2="330.51" y2="404.50" stroke="#111" stroke-width="0.95"/>
<line x1="339.52" y1="393.00" x2="339.52" y2="399.00" stroke="#111" stroke-width="0.95"/>
<line x1="337.22" y1="393.00" x2="341.82" y2="393.00" stroke="#111" stroke-width="0.95"/>
<line x1="337.22" y1="399.00" x2="341.82" y2="399.00" stroke="#111" stroke-width="0.95"/>
<line x1="350.82" y1="388.80" x2="350.82" y2="395.20" stroke="#111" stroke-width="0.95"/>
<line x1="348.52" y1="388.80" x2="353.12" y2="388.80" stroke="#111" stroke-width="0.95"/>
<line x1="348.52" y1="395.20" x2="353.12" y2="395.20" stroke="#111" stroke-width="0.95"/>
<line x1="362.12" y1="385.60" x2="362.12" y2="391.60" stroke="#111" stroke-width="0.95"/>
<line x1="359.82" y1="385.60" x2="364.42" y2="385.60" stroke="#111" stroke-width="0.95"/>
<line x1="359.82" y1="391.60" x2="364.42" y2="391.60" stroke="#111" stroke-width="0.95"/>
<line x1="373.43" y1="384.40" x2="373.43" y2="390.00" stroke="#111" stroke-width="0.95"/>
<line x1="371.13" y1="384.40" x2="375.73" y2="384.40" stroke="#111" stroke-width="0.95"/>
<line x1="371.13" y1="390.00" x2="375.73" y2="390.00" stroke="#111" stroke-width="0.95"/>
<line x1="384.73" y1="379.60" x2="384.73" y2="385.60" stroke="#111" stroke-width="0.95"/>
<line x1="382.43" y1="379.60" x2="387.03" y2="379.60" stroke="#111" stroke-width="0.95"/>
<line x1="382.43" y1="385.60" x2="387.03" y2="385.60" stroke="#111" stroke-width="0.95"/>
<line x1="396.04" y1="377.30" x2="396.04" y2="383.70" stroke="#111" stroke-width="0.95"/>
<line x1="393.74" y1="377.30" x2="398.34" y2="377.30" stroke="#111" stroke-width="0.95"/>
<line x1="393.74" y1="383.70" x2="398.34" y2="383.70" stroke="#111" stroke-width="0.95"/>
<line x1="407.34" y1="374.90" x2="407.34" y2="382.10" stroke="#111" stroke-width="0.95"/>
<line x1="405.04" y1="374.90" x2="409.64" y2="374.90" stroke="#111" stroke-width="0.95"/>
<line x1="405.04" y1="382.10" x2="409.64" y2="382.10" stroke="#111" stroke-width="0.95"/>
<line x1="418.64" y1="372.20" x2="418.64" y2="379.00" stroke="#111" stroke-width="0.95"/>
<line x1="416.34" y1="372.20" x2="420.94" y2="372.20" stroke="#111" stroke-width="0.95"/>
<line x1="416.34" y1="379.00" x2="420.94" y2="379.00" stroke="#111" stroke-width="0.95"/>
<line x1="429.95" y1="370.30" x2="429.95" y2="376.30" stroke="#111" stroke-width="0.95"/>
<line x1="427.65" y1="370.30" x2="432.25" y2="370.30" stroke="#111" stroke-width="0.95"/>
<line x1="427.65" y1="376.30" x2="432.25" y2="376.30" stroke="#111" stroke-width="0.95"/>
<line x1="441.25" y1="370.50" x2="441.25" y2="376.10" stroke="#111" stroke-width="0.95"/>
<line x1="438.95" y1="370.50" x2="443.55" y2="370.50" stroke="#111" stroke-width="0.95"/>
<line x1="438.95" y1="376.10" x2="443.55" y2="376.10" stroke="#111" stroke-width="0.95"/>
<line x1="294.30" y1="411.90" x2="294.30" y2="415.10" stroke="#111" stroke-width="0.95"/>
<line x1="292.00" y1="411.90" x2="296.60" y2="411.90" stroke="#111" stroke-width="0.95"/>
<line x1="292.00" y1="415.10" x2="296.60" y2="415.10" stroke="#111" stroke-width="0.95"/>
<line x1="305.60" y1="409.40" x2="305.60" y2="412.60" stroke="#111" stroke-width="0.95"/>
<line x1="303.30" y1="409.40" x2="307.90" y2="409.40" stroke="#111" stroke-width="0.95"/>
<line x1="303.30" y1="412.60" x2="307.90" y2="412.60" stroke="#111" stroke-width="0.95"/>
<line x1="316.91" y1="405.40" x2="316.91" y2="409.00" stroke="#111" stroke-width="0.95"/>
<line x1="314.61" y1="405.40" x2="319.21" y2="405.40" stroke="#111" stroke-width="0.95"/>
<line x1="314.61" y1="409.00" x2="319.21" y2="409.00" stroke="#111" stroke-width="0.95"/>
<line x1="328.21" y1="401.50" x2="328.21" y2="405.10" stroke="#111" stroke-width="0.95"/>
<line x1="325.91" y1="401.50" x2="330.51" y2="401.50" stroke="#111" stroke-width="0.95"/>
<line x1="325.91" y1="405.10" x2="330.51" y2="405.10" stroke="#111" stroke-width="0.95"/>
<line x1="339.52" y1="397.80" x2="339.52" y2="401.00" stroke="#111" stroke-width="0.95"/>
<line x1="337.22" y1="397.80" x2="341.82" y2="397.80" stroke="#111" stroke-width="0.95"/>
<line x1="337.22" y1="401.00" x2="341.82" y2="401.00" stroke="#111" stroke-width="0.95"/>
<line x1="350.82" y1="397.90" x2="350.82" y2="400.70" stroke="#111" stroke-width="0.95"/>
<line x1="348.52" y1="397.90" x2="353.12" y2="397.90" stroke="#111" stroke-width="0.95"/>
<line x1="348.52" y1="400.70" x2="353.12" y2="400.70" stroke="#111" stroke-width="0.95"/>
<line x1="362.12" y1="398.30" x2="362.12" y2="401.10" stroke="#111" stroke-width="0.95"/>
<line x1="359.82" y1="398.30" x2="364.42" y2="398.30" stroke="#111" stroke-width="0.95"/>
<line x1="359.82" y1="401.10" x2="364.42" y2="401.10" stroke="#111" stroke-width="0.95"/>
<line x1="373.43" y1="397.50" x2="373.43" y2="400.30" stroke="#111" stroke-width="0.95"/>
<line x1="371.13" y1="397.50" x2="375.73" y2="397.50" stroke="#111" stroke-width="0.95"/>
<line x1="371.13" y1="400.30" x2="375.73" y2="400.30" stroke="#111" stroke-width="0.95"/>
<line x1="384.73" y1="398.80" x2="384.73" y2="401.60" stroke="#111" stroke-width="0.95"/>
<line x1="382.43" y1="398.80" x2="387.03" y2="398.80" stroke="#111" stroke-width="0.95"/>
<line x1="382.43" y1="401.60" x2="387.03" y2="401.60" stroke="#111" stroke-width="0.95"/>
<line x1="396.04" y1="400.00" x2="396.04" y2="402.80" stroke="#111" stroke-width="0.95"/>
<line x1="393.74" y1="400.00" x2="398.34" y2="400.00" stroke="#111" stroke-width="0.95"/>
<line x1="393.74" y1="402.80" x2="398.34" y2="402.80" stroke="#111" stroke-width="0.95"/>
<line x1="407.34" y1="401.40" x2="407.34" y2="404.20" stroke="#111" stroke-width="0.95"/>
<line x1="405.04" y1="401.40" x2="409.64" y2="401.40" stroke="#111" stroke-width="0.95"/>
<line x1="405.04" y1="404.20" x2="409.64" y2="404.20" stroke="#111" stroke-width="0.95"/>
<line x1="418.64" y1="402.20" x2="418.64" y2="405.00" stroke="#111" stroke-width="0.95"/>
<line x1="416.34" y1="402.20" x2="420.94" y2="402.20" stroke="#111" stroke-width="0.95"/>
<line x1="416.34" y1="405.00" x2="420.94" y2="405.00" stroke="#111" stroke-width="0.95"/>
<line x1="429.95" y1="404.00" x2="429.95" y2="406.80" stroke="#111" stroke-width="0.95"/>
<line x1="427.65" y1="404.00" x2="432.25" y2="404.00" stroke="#111" stroke-width="0.95"/>
<line x1="427.65" y1="406.80" x2="432.25" y2="406.80" stroke="#111" stroke-width="0.95"/>
<line x1="441.25" y1="407.60" x2="441.25" y2="410.40" stroke="#111" stroke-width="0.95"/>
<line x1="438.95" y1="407.60" x2="443.55" y2="407.60" stroke="#111" stroke-width="0.95"/>
<line x1="438.95" y1="410.40" x2="443.55" y2="410.40" stroke="#111" stroke-width="0.95"/>
<path d="M294.30,413.20 L305.60,409.80 L316.91,405.60 L328.21,401.80 L339.52,396.50 L350.82,393.00 L362.12,390.00 L373.43,388.20 L384.73,387.10 L396.04,386.90 L407.34,387.10 L418.64,386.20 L429.95,386.50 L441.25,387.70" fill="none" stroke="#8fd98f" stroke-width="0.8" stroke-dasharray="1 1"/>
<path d="M294.30,413.50 L305.60,411.00 L316.91,407.20 L328.21,403.30 L339.52,399.40 L350.82,399.30 L362.12,399.70 L373.43,398.90 L384.73,400.20 L396.04,401.40 L407.34,402.80 L418.64,403.60 L429.95,405.40 L441.25,409.00" fill="none" stroke="#4e2a84" stroke-width="1.0" stroke-dasharray="3 1.5 1 1.5"/>
<path d="M294.30,413.00 L305.60,409.60 L316.91,406.20 L328.21,402.50 L339.52,397.60 L350.82,393.90 L362.12,391.90 L373.43,390.70 L384.73,389.60 L396.04,390.80 L407.34,391.50 L418.64,392.00 L429.95,393.50 L441.25,398.00" fill="none" stroke="#0a4f8a" stroke-width="1.2" stroke-dasharray="3.5 2"/>
<path d="M294.30,413.70 L305.60,410.20 L316.91,405.80 L328.21,401.50 L339.52,396.00 L350.82,392.00 L362.12,388.60 L373.43,387.20 L384.73,382.60 L396.04,380.50 L407.34,378.50 L418.64,375.60 L429.95,373.30 L441.25,373.30" fill="none" stroke="#c8102e" stroke-width="1.2"/>
<path d="M294.30,415.57 L296.60,411.43 L292.00,411.43 Z" fill="#4e2a84"/>
<path d="M305.60,413.07 L307.90,408.93 L303.30,408.93 Z" fill="#4e2a84"/>
<path d="M316.91,409.27 L319.21,405.13 L314.61,405.13 Z" fill="#4e2a84"/>
<path d="M328.21,405.37 L330.51,401.23 L325.91,401.23 Z" fill="#4e2a84"/>
<path d="M339.52,401.47 L341.82,397.33 L337.22,397.33 Z" fill="#4e2a84"/>
<path d="M350.82,401.37 L353.12,397.23 L348.52,397.23 Z" fill="#4e2a84"/>
<path d="M362.12,401.77 L364.42,397.63 L359.82,397.63 Z" fill="#4e2a84"/>
<path d="M373.43,400.97 L375.73,396.83 L371.13,396.83 Z" fill="#4e2a84"/>
<path d="M384.73,402.27 L387.03,398.13 L382.43,398.13 Z" fill="#4e2a84"/>
<path d="M396.04,403.47 L398.34,399.33 L393.74,399.33 Z" fill="#4e2a84"/>
<path d="M407.34,404.87 L409.64,400.73 L405.04,400.73 Z" fill="#4e2a84"/>
<path d="M418.64,405.67 L420.94,401.53 L416.34,401.53 Z" fill="#4e2a84"/>
<path d="M429.95,407.47 L432.25,403.33 L427.65,403.33 Z" fill="#4e2a84"/>
<path d="M441.25,411.07 L443.55,406.93 L438.95,406.93 Z" fill="#4e2a84"/>
<path d="M294.30,411.40 L296.30,415.00 L292.30,415.00 Z" fill="#2fb84a"/>
<path d="M305.60,408.00 L307.60,411.60 L303.60,411.60 Z" fill="#2fb84a"/>
<path d="M316.91,403.80 L318.91,407.40 L314.91,407.40 Z" fill="#2fb84a"/>
<path d="M328.21,400.00 L330.21,403.60 L326.21,403.60 Z" fill="#2fb84a"/>
<path d="M339.52,394.70 L341.52,398.30 L337.52,398.30 Z" fill="#2fb84a"/>
<path d="M350.82,391.20 L352.82,394.80 L348.82,394.80 Z" fill="#2fb84a"/>
<path d="M362.12,388.20 L364.12,391.80 L360.12,391.80 Z" fill="#2fb84a"/>
<path d="M373.43,386.40 L375.43,390.00 L371.43,390.00 Z" fill="#2fb84a"/>
<path d="M384.73,385.30 L386.73,388.90 L382.73,388.90 Z" fill="#2fb84a"/>
<path d="M396.04,385.10 L398.04,388.70 L394.04,388.70 Z" fill="#2fb84a"/>
<path d="M407.34,385.30 L409.34,388.90 L405.34,388.90 Z" fill="#2fb84a"/>
<path d="M418.64,384.40 L420.64,388.00 L416.64,388.00 Z" fill="#2fb84a"/>
<path d="M429.95,384.70 L431.95,388.30 L427.95,388.30 Z" fill="#2fb84a"/>
<path d="M441.25,385.90 L443.25,389.50 L439.25,389.50 Z" fill="#2fb84a"/>
<rect x="292.20" y="410.90" width="4.20" height="4.20" fill="#0a4f8a"/>
<rect x="303.50" y="407.50" width="4.20" height="4.20" fill="#0a4f8a"/>
<rect x="314.81" y="404.10" width="4.20" height="4.20" fill="#0a4f8a"/>
<rect x="326.11" y="400.40" width="4.20" height="4.20" fill="#0a4f8a"/>
<rect x="337.42" y="395.50" width="4.20" height="4.20" fill="#0a4f8a"/>
<rect x="348.72" y="391.80" width="4.20" height="4.20" fill="#0a4f8a"/>
<rect x="360.02" y="389.80" width="4.20" height="4.20" fill="#0a4f8a"/>
<rect x="371.33" y="388.60" width="4.20" height="4.20" fill="#0a4f8a"/>
<rect x="382.63" y="387.50" width="4.20" height="4.20" fill="#0a4f8a"/>
<rect x="393.94" y="388.70" width="4.20" height="4.20" fill="#0a4f8a"/>
<rect x="405.24" y="389.40" width="4.20" height="4.20" fill="#0a4f8a"/>
<rect x="416.54" y="389.90" width="4.20" height="4.20" fill="#0a4f8a"/>
<rect x="427.85" y="391.40" width="4.20" height="4.20" fill="#0a4f8a"/>
<rect x="439.15" y="395.90" width="4.20" height="4.20" fill="#0a4f8a"/>
<circle cx="294.30" cy="413.70" r="2.3" fill="#c8102e"/>
<circle cx="305.60" cy="410.20" r="2.3" fill="#c8102e"/>
<circle cx="316.91" cy="405.80" r="2.3" fill="#c8102e"/>
<circle cx="328.21" cy="401.50" r="2.3" fill="#c8102e"/>
<circle cx="339.52" cy="396.00" r="2.3" fill="#c8102e"/>
<circle cx="350.82" cy="392.00" r="2.3" fill="#c8102e"/>
<circle cx="362.12" cy="388.60" r="2.3" fill="#c8102e"/>
<circle cx="373.43" cy="387.20" r="2.3" fill="#c8102e"/>
<circle cx="384.73" cy="382.60" r="2.3" fill="#c8102e"/>
<circle cx="396.04" cy="380.50" r="2.3" fill="#c8102e"/>
<circle cx="407.34" cy="378.50" r="2.3" fill="#c8102e"/>
<circle cx="418.64" cy="375.60" r="2.3" fill="#c8102e"/>
<circle cx="429.95" cy="373.30" r="2.3" fill="#c8102e"/>
<circle cx="441.25" cy="373.30" r="2.3" fill="#c8102e"/>
<path d="M448.5,388.2 H454.6 V411.2 H448.5" fill="none" stroke="#333" stroke-width="1.0"/>
<text x="457.70" y="400.60" font-size="8.21" textLength="9.20" lengthAdjust="spacingAndGlyphs">***</text>
<line x1="414.80" y1="289.70" x2="424.90" y2="289.70" stroke="#c8102e" stroke-width="1.0"/>
<circle cx="419.80" cy="289.70" r="1.6" fill="#c8102e"/>
<line x1="414.80" y1="301.30" x2="424.00" y2="301.30" stroke="#0a4f8a" stroke-width="1.0"/>
<rect x="418.20" y="299.70" width="3.20" height="3.20" fill="#0a4f8a"/>
<line x1="414.00" y1="313.60" x2="424.00" y2="313.60" stroke="#8fd98f" stroke-width="0.8" stroke-dasharray="1.2 0.8"/>
<path d="M419.80,311.96 L421.40,314.84 L418.20,314.84 Z" fill="#2fb84a"/>
<line x1="414.00" y1="324.80" x2="425.00" y2="324.80" stroke="#4e2a84" stroke-width="0.9" stroke-dasharray="2 1 1 1"/>
<path d="M419.80,326.33 L421.50,323.27 L418.10,323.27 Z" fill="#4e2a84"/>
<text x="427.80" y="292.20" font-size="7.99" textLength="21.80" lengthAdjust="spacingAndGlyphs">DMSO</text>
<text x="427.80" y="303.80" font-size="7.99" textLength="35.00" lengthAdjust="spacingAndGlyphs">Soni 10µM</text>
<text x="427.80" y="315.40" font-size="7.99" textLength="39.20" lengthAdjust="spacingAndGlyphs">PKC 150nM</text>
<text x="427.80" y="327.00" font-size="7.99" textLength="84.20" lengthAdjust="spacingAndGlyphs">Soni 10µM + PKC 150nM</text>
<rect x="280.80" y="513.20" width="198.00" height="17.30" fill="#e6e7e8"/>
<line x1="280.80" y1="532.00" x2="478.80" y2="532.00" stroke="#4a4a4a" stroke-width="1.7"/>
<line x1="321.70" y1="513.20" x2="321.70" y2="561.30" stroke="#4a4a4a" stroke-width="1.4"/>
<text x="287.45" y="529.90" font-size="8.42" textLength="27.50" lengthAdjust="spacingAndGlyphs">% 7AAD</text>
<text x="332.60" y="529.70" font-size="8.42" textLength="22.00" lengthAdjust="spacingAndGlyphs">DMSO</text>
<text x="377.80" y="520.30" font-size="8.42" textLength="13.80" lengthAdjust="spacingAndGlyphs">PKC</text>
<text x="373.35" y="529.70" font-size="8.42" textLength="22.70" lengthAdjust="spacingAndGlyphs">150nM</text>
<text x="415.40" y="520.30" font-size="8.42" textLength="13.80" lengthAdjust="spacingAndGlyphs">PKC</text>
<text x="410.95" y="529.70" font-size="8.42" textLength="22.70" lengthAdjust="spacingAndGlyphs">200nM</text>
<text x="453.40" y="520.30" font-size="8.42" textLength="13.80" lengthAdjust="spacingAndGlyphs">PKC</text>
<text x="448.95" y="529.70" font-size="8.42" textLength="22.70" lengthAdjust="spacingAndGlyphs">250nM</text>
<text x="281.80" y="540.20" font-size="8.42" textLength="22.10" lengthAdjust="spacingAndGlyphs">DMSO</text>
<text x="281.80" y="549.80" font-size="8.42" textLength="35.20" lengthAdjust="spacingAndGlyphs">Soni 10µM</text>
<text x="281.80" y="559.30" font-size="8.42" textLength="35.20" lengthAdjust="spacingAndGlyphs">Soni 20µM</text>
<text x="336.85" y="540.30" font-size="8.42" textLength="13.90" lengthAdjust="spacingAndGlyphs">5,36</text>
<text x="377.65" y="540.30" font-size="8.42" textLength="13.90" lengthAdjust="spacingAndGlyphs">9,99</text>
<text x="415.35" y="540.30" font-size="8.42" textLength="13.90" lengthAdjust="spacingAndGlyphs">12,1</text>
<text x="453.35" y="540.30" font-size="8.42" textLength="13.90" lengthAdjust="spacingAndGlyphs">18,2</text>
<text x="336.85" y="549.80" font-size="8.42" textLength="13.90" lengthAdjust="spacingAndGlyphs">10,5</text>
<text x="377.65" y="549.80" font-size="8.42" textLength="13.90" lengthAdjust="spacingAndGlyphs">14,4</text>
<text x="415.35" y="549.80" font-size="8.42" textLength="13.90" lengthAdjust="spacingAndGlyphs">24,5</text>
<text x="453.35" y="549.80" font-size="8.42" textLength="13.90" lengthAdjust="spacingAndGlyphs">25,4</text>
<text x="336.85" y="559.20" font-size="8.42" textLength="13.90" lengthAdjust="spacingAndGlyphs">19,8</text>
<text x="377.65" y="559.20" font-size="8.42" textLength="13.90" lengthAdjust="spacingAndGlyphs">42,2</text>
<text x="415.35" y="559.20" font-size="8.42" textLength="13.90" lengthAdjust="spacingAndGlyphs">30,3</text>
<text x="453.35" y="559.20" font-size="8.42" textLength="13.90" lengthAdjust="spacingAndGlyphs">39,7</text>
</svg>
</body></html>
